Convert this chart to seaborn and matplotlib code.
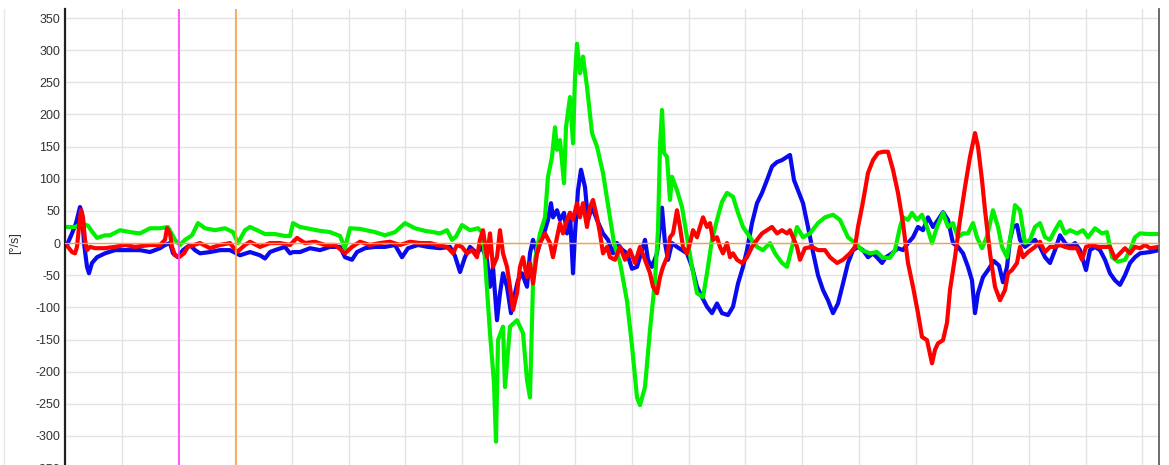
import numpy as np
import pandas as pd
import matplotlib
matplotlib.use("Agg")
import matplotlib.pyplot as plt
import seaborn as sns

# ---- data (sample index, angular rate in deg/s) ----
sample_blue = [65,67,72,76,80,82,84,87,89,92,97,105,115,130,140,150,160,165,170,173,178,183,190,195,200,210,220,230,240,250,260,265,270,275,285,290,293,300,310,320,330,340,345,352,357,365,375,385,395,402,408,418,428,440,450,455,460,465,470,477,482,487,490,493,497,500,503,507,511,515,518,522,527,530,533,537,540,545,548,551,553,557,560,564,567,570,573,575,578,581,585,588,592,597,603,608,613,617,622,627,632,637,642,645,648,652,657,662,665,668,672,677,682,687,692,697,702,707,712,717,722,728,733,738,743,747,752,757,762,767,772,777,782,787,790,794,798,803,808,813,818,823,828,833,838,843,848,853,858,863,868,873,878,882,886,892,898,903,908,913,918,923,928,933,938,943,948,953,958,963,968,972,975,978,983,988,994,999,1003,1007,1010,1013,1017,1020,1025,1030,1035,1040,1045,1050,1055,1060,1065,1070,1075,1080,1086,1090,1095,1100,1105,1110,1115,1120,1125,1130,1135,1140,1150,1159]
rate_blue = [-3,-3,15,31,56,47,0,-37,-47,-31,-22,-16,-11,-11,-11,-14,-8,-3,0,-16,-22,-11,-3,-11,-16,-14,-11,-11,-19,-14,-19,-24,-14,-11,-6,-16,-14,-14,-8,-11,-6,-6,-22,-26,-14,-8,-6,-6,-3,-22,-8,-3,-6,-8,-6,-20,-45,-22,-6,-16,-6,-26,-68,-37,-120,-78,-47,-68,-109,-78,-58,-47,-68,-16,5,-16,0,20,36,62,40,51,36,47,15,47,-47,15,82,114,87,36,56,36,15,5,-16,0,-10,-16,-40,-37,-11,5,-26,-37,-16,55,0,-26,0,-6,-11,-16,-37,-68,-84,-99,-109,-94,-109,-112,-99,-63,-37,-11,31,62,78,98,119,126,129,134,137,98,82,62,25,-14,-50,-73,-89,-109,-94,-63,-31,-11,-6,-11,-22,-16,-24,-31,-22,-16,-8,-11,0,9,25,20,40,25,36,48,36,0,-6,-16,-37,-58,-109,-78,-53,-42,-28,-35,-61,-37,5,25,28,5,-6,0,5,-6,-22,-31,-11,12,0,-6,0,-11,-42,-11,-6,-11,-26,-47,-58,-65,-50,-31,-22,-16,-14,-11]

sample_green = [65,75,83,88,92,97,105,110,120,130,140,150,160,168,175,180,185,192,198,205,215,225,233,238,245,250,257,265,275,285,290,293,300,310,320,330,340,345,350,360,375,385,395,405,415,425,433,440,447,452,456,462,470,478,483,485,490,494,496,498,503,505,510,517,523,527,530,533,535,540,545,548,552,555,557,560,564,566,570,573,575,577,580,583,587,592,597,603,610,614,620,627,632,637,640,645,650,655,658,660,662,664,667,670,672,677,682,687,692,697,703,707,712,717,722,727,733,738,743,750,757,763,770,775,782,787,792,797,803,810,818,825,833,840,848,855,862,870,877,883,890,895,900,903,908,912,917,922,927,932,937,943,948,953,958,963,968,973,977,982,987,993,998,1002,1007,1012,1015,1020,1025,1030,1035,1040,1045,1050,1055,1060,1065,1070,1077,1083,1088,1095,1102,1107,1112,1118,1125,1130,1135,1140,1150,1159]
rate_green = [25,25,30,27,18,8,12,12,20,17,15,23,23,25,5,-3,5,12,31,23,20,23,17,0,20,25,20,14,14,11,11,31,25,22,19,17,11,-8,23,22,17,12,17,31,23,19,17,15,20,5,10,28,20,23,15,-26,-140,-218,-309,-151,-130,-224,-130,-120,-140,-213,-240,-63,-26,15,40,103,134,180,145,160,93,180,227,155,258,310,264,290,243,171,150,109,40,0,-30,-90,-160,-240,-252,-224,-135,-58,20,150,207,140,134,67,103,82,56,9,-37,-78,-84,-47,5,36,64,78,72,47,25,9,-6,-11,0,-16,-31,-37,-6,25,9,15,31,40,44,36,9,0,-11,-16,-14,-23,-23,-11,25,40,36,47,36,44,25,0,25,47,25,31,9,15,15,31,9,-8,10,51,25,-6,-22,25,59,51,0,5,25,31,9,5,20,33,15,20,15,20,9,23,15,17,-22,-29,-26,-11,9,15,14,14]

sample_red = [65,68,72,75,77,79,81,83,85,87,90,95,105,115,125,135,150,160,165,167,170,172,175,179,184,188,200,210,220,230,237,240,245,250,260,270,280,290,297,305,315,325,335,345,352,360,370,380,390,400,410,420,430,440,447,453,457,462,467,472,477,480,483,487,490,493,497,500,503,507,510,513,517,520,523,527,530,533,537,540,545,550,553,557,560,563,567,570,573,577,580,583,587,590,593,597,600,603,607,610,615,620,625,630,635,640,645,650,653,657,660,663,667,670,673,677,680,683,687,690,693,697,700,703,707,710,713,717,720,723,727,730,733,737,742,747,752,757,762,767,772,777,782,787,790,793,797,800,805,812,818,825,830,837,843,850,855,858,862,865,868,873,878,883,888,893,898,903,908,913,918,922,927,932,935,938,943,947,950,955,960,965,970,975,978,982,985,990,995,1000,1005,1008,1012,1017,1020,1023,1028,1035,1040,1045,1050,1055,1060,1065,1070,1077,1082,1086,1092,1098,1103,1110,1115,1120,1125,1130,1135,1140,1145,1150,1159]
rate_red = [-3,-6,-14,-16,-6,25,51,40,5,-11,-6,-8,-8,-6,-3,-6,-3,-3,5,23,15,-6,-19,-22,-16,-6,0,-8,-3,0,-14,-10,-3,2,-6,0,0,-3,8,0,2,-3,-3,-16,-6,2,-3,0,2,-3,2,0,0,-4,-6,-16,-3,-6,-16,-11,-22,5,20,-22,15,-37,-22,20,-16,-37,-68,-104,-78,-37,-22,-53,-31,-63,-16,0,15,0,-22,9,31,15,36,47,36,62,40,62,25,56,67,40,15,-16,-6,-22,-26,-6,-26,-11,-31,-6,-26,-47,-68,-78,-53,-37,-22,9,15,51,25,-6,-16,0,20,9,25,40,25,31,5,9,-6,-16,0,-22,-16,-26,-31,-22,-6,5,15,20,25,15,20,15,20,9,-6,-26,-8,-6,-11,-11,-22,-31,-26,-16,-6,25,56,82,109,129,140,142,142,114,78,31,-31,-68,-109,-146,-151,-187,-166,-156,-151,-124,-73,-22,36,87,134,171,150,98,51,-16,-68,-89,-73,-47,-42,-31,-6,-22,-14,-6,2,-14,-6,-6,-3,-6,-8,-8,-26,-6,-3,-6,-6,-6,-24,-16,-8,-16,-6,-8,-3,-8,-6]

y_ticks = list(range(-350, 351, 50))
marker_samples = [179, 236]   # magenta and orange cursors

frames = []
for name, xs, ys in [("blue", sample_blue, rate_blue),
                     ("green", sample_green, rate_green),
                     ("red", sample_red, rate_red)]:
    frames.append(pd.DataFrame({"sample": xs, "rate": ys, "axis": name}))
df = pd.concat(frames, ignore_index=True)

sns.set_style("white")
plt.rcParams["font.family"] = ["Liberation Sans", "DejaVu Sans"]

W, H = 1169, 465
fig = plt.figure(figsize=(W / 100, H / 100), dpi=100)
ax_left, ax_right, ax_top = 65 / W, 1159 / W, 1 - 9 / H
ymin, ymax = -365, 364
px_per_unit = 0.643
ax_h_px = (ymax - ymin) * px_per_unit
ax_bottom = ax_top - ax_h_px / H
ax = fig.add_axes([ax_left, ax_bottom, ax_right - ax_left, ax_top - ax_bottom])

palette = {"blue": "#0a0aee", "green": "#00f000", "red": "#ff0000"}
sns.lineplot(data=df, x="sample", y="rate", hue="axis", palette=palette,
             sort=False, estimator=None, linewidth=3.0, legend=False, ax=ax)

ax.axhline(0, color="#ffa040", linewidth=1.0, zorder=5)
ax.axvline(marker_samples[0], color="#ff40ff", linewidth=1.2, zorder=6)
ax.axvline(marker_samples[1], color="#ffa040", linewidth=1.2, zorder=6)

ax.set_xlim(65, 1159)
ax.set_ylim(ymin, ymax)
ax.set_yticks(y_ticks)
ax.set_yticklabels([str(v) for v in y_ticks])
ax.set_xticks(np.arange(65 + 56.7, 1159, 56.7))
ax.set_xticklabels([])
ax.grid(True, color="#e3e3e3", linewidth=1.0)
ax.set_axisbelow(True)
ax.tick_params(axis="y", length=2, pad=1.5, labelsize=9, colors="#333333")
ax.tick_params(axis="x", length=0)
ax.set_xlabel("")
ax.set_ylabel("")

for s in ["top", "bottom"]:
    ax.spines[s].set_visible(False)
ax.spines["left"].set_color("#202020")
ax.spines["left"].set_linewidth(1.6)
ax.spines["right"].set_color("#606060")
ax.spines["right"].set_linewidth(1.3)

fig.text(15 / W, 1 - 243 / H, "[°/s]", rotation=90, ha="center", va="center",
         fontsize=9, color="#333333")
fig.add_artist(plt.Line2D([4 / W, 4 / W], [0, 1 - 9 / H], color="#e8e8e8",
                          linewidth=1.0, transform=fig.transFigure))

fig.savefig("out.png", dpi=100)
